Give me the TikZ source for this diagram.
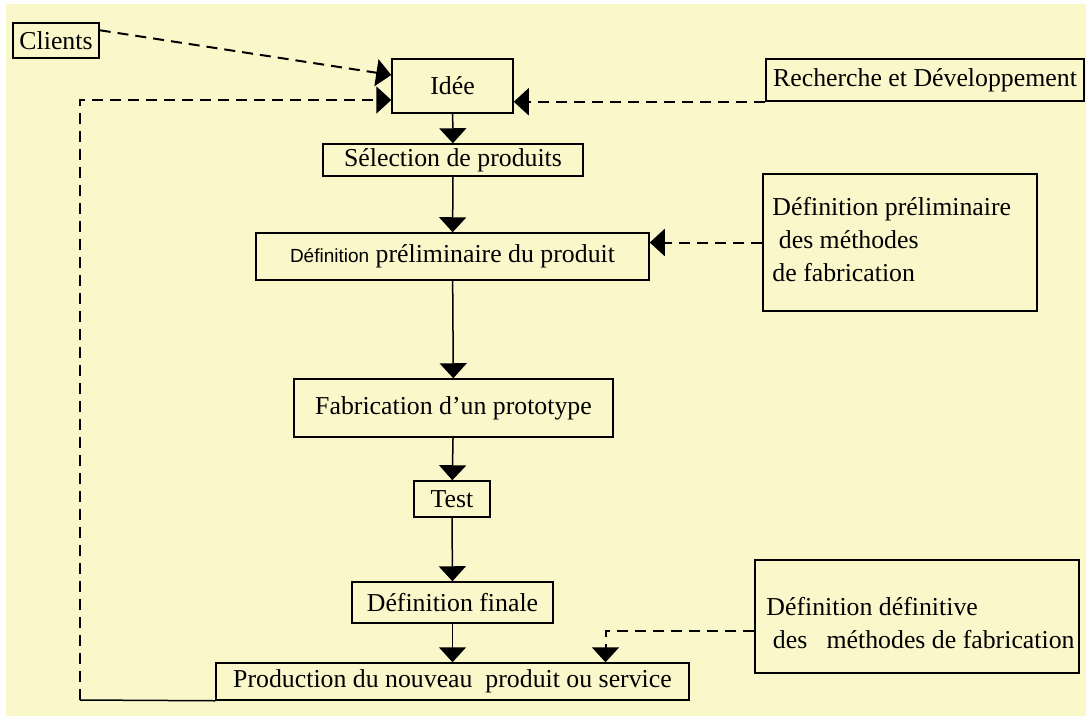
\documentclass[tikz,border=0pt]{standalone}
\usepackage{fontspec}
\setmainfont{Liberation Serif}
\newfontfamily\arialfont{Liberation Sans}
\usetikzlibrary{arrows.meta}
\definecolor{cream}{RGB}{250,247,202}

\begin{document}
\begin{tikzpicture}[x=1pt, y=-1pt,
    box/.style={draw, line width=1.5pt, inner sep=0pt, font=\fontsize{25.8}{32.5}\selectfont},
    txt/.style={inner sep=0pt, align=left, font=\fontsize{25.8}{33}\selectfont},
    flow/.style={line width=1.5pt, -{Triangle[width=27pt, length=15pt]}},
    feed/.style={flow, line width=2pt, dash pattern=on 11pt off 7pt}]
    % Background
    \fill[white] (0,0) rectangle (1086,718);
    \fill[cream] (6,4) rectangle (1086,716);
    \useasboundingbox (0,0) rectangle (1086,718);

    % Main chain
    \node[box, minimum width=121pt, minimum height=54pt] (idee) at (452.5,86) {Idée};
    \node[box, minimum width=260pt, minimum height=32pt] (sel) at (453,160) {Sélection de produits};
    \node[box, minimum width=393pt, minimum height=47pt] (dp) at (452.5,256.5)
        {{\arialfont\fontsize{19}{23}\selectfont Définition} préliminaire du produit};
    \node[box, minimum width=319pt, minimum height=58pt] (fab) at (453.5,408) {Fabrication d’un prototype};
    \node[box, minimum width=76pt, minimum height=36pt] (test) at (452,499) {Test};
    \node[box, minimum width=201pt, minimum height=41pt] (dfin) at (452.5,602.5) {Définition finale};
    \node[box, minimum width=473pt, minimum height=37pt] (prod) at (452.5,681.5) {Production du nouveau\ \ produit ou service};

    \foreach \a/\b in {idee/sel, sel/dp, dp/fab, fab/test, test/dfin, dfin/prod}
    \draw[flow] (\a) -- (\b);

    % Inputs
    \node[box, minimum width=86pt, minimum height=35pt] (cl) at (56,40.5) {Clients};
    \node[box, minimum width=318pt, minimum height=42pt] (rd) at (925,80) {Recherche et Développement};
    \node[box, minimum width=274pt, minimum height=137pt] (mp) at (900,242.5) {};
    \node[txt, anchor=west] (mptext) at ([xshift=10pt, yshift=3pt]mp.west)
        {Définition préliminaire\\\ des méthodes\\de fabrication};
    \node[box, minimum width=324pt, minimum height=113pt] (md) at (917,616.5) {};
    \node[txt, anchor=west] (mdtext) at ([xshift=12pt, yshift=-7pt]md.west)
        {Définition définitive\\\ des\ \ \ méthodes de fabrication};

    \draw[feed] ([yshift=-8pt]cl.north east) -- ([yshift=11pt]idee.west);
    \draw[feed] (rd.south west) -- (rd.south west -| idee.east);
    \draw[feed] (mp.west) -- (mp.west -| dp.east);
    \draw[feed] ([yshift=-14pt]md.west) -| ([xshift=153pt]prod.north);

    % Feedback loop
    \coordinate (fb) at (80,700);
    \draw[line width=1.5pt] (prod.south west) -- (fb);
    \draw[feed] (fb) |- ([yshift=-14pt]idee.west);
\end{tikzpicture}
\end{document}
